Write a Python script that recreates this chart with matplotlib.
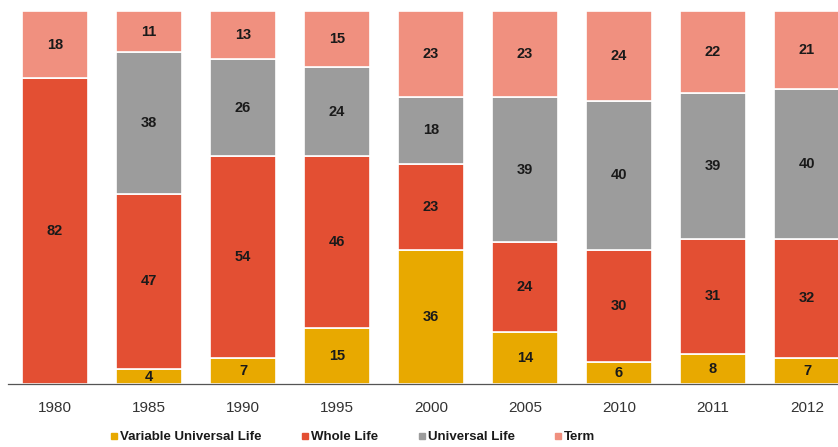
import numpy as np
import matplotlib
matplotlib.use('Agg')
import matplotlib.pyplot as plt
from matplotlib.lines import Line2D

plt.rcParams['font.family'] = ['Liberation Sans', 'DejaVu Sans']

###chart data
years = ['1980', '1985', '1990', '1995', '2000', '2005', '2010', '2011', '2012']
series_names = ['Variable Universal Life', 'Whole Life', 'Universal Life', 'Term']
vul = [0, 4, 7, 15, 36, 14, 6, 8, 7]
whole = [82, 47, 54, 46, 23, 24, 30, 31, 32]
ul = [0, 38, 26, 24, 18, 39, 40, 39, 40]
term = [18, 11, 13, 15, 23, 23, 24, 22, 21]
colors = ['#E8A900', '#E34F33', '#9C9C9C', '#F0907F']

fig = plt.figure(figsize=(8.38, 4.47), dpi=100)
ax = fig.add_axes([8/838, 63/447, 830/838, 373/447])

x = np.arange(len(years))
bottom = np.zeros(len(years))
for vals, col in zip([vul, whole, ul, term], colors):
    vals = np.array(vals, dtype=float)
    ax.bar(x, vals, 0.7, bottom=bottom, color=col, edgecolor='white', linewidth=1.2)
    for xi, b, v in zip(x, bottom, vals):
        if v > 0:
            ax.text(xi, b + v/2, str(int(v)), ha='center', va='center',
                    fontsize=10.5, fontweight='bold', color='#1a1a1a')
    bottom += vals

ax.set_xlim(-0.5, 8.33)
ax.set_ylim(0, 100)
ax.set_yticks([])
ax.set_xticks(x)
ax.set_xticklabels(years, fontsize=11, color='#333333')
ax.tick_params(axis='x', length=0, pad=12)
for s in ['top', 'right', 'left']:
    ax.spines[s].set_visible(False)
ax.spines['bottom'].set_color('#555555')
ax.spines['bottom'].set_linewidth(0.9)

handles = [Line2D([], [], marker='s', linestyle='none', markersize=5,
                  markerfacecolor=c, markeredgecolor=c) for c in colors]
leg = fig.legend(handles, series_names, loc='center', bbox_to_anchor=(353/838, 1 - 437/447),
                 ncol=4, frameon=False, handletextpad=0.15, columnspacing=3.0,
                 handlelength=0.6, prop={'size': 9.5, 'weight': 'bold'})
for t in leg.get_texts():
    t.set_color('#1a1a1a')

fig.savefig('out.png', dpi=100)
